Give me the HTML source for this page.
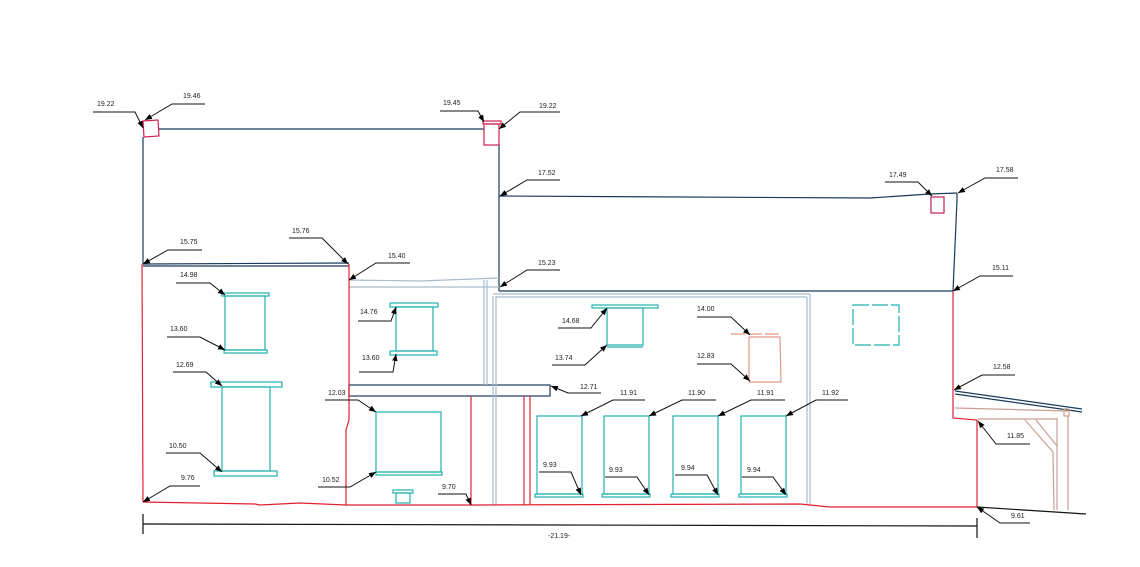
<!DOCTYPE html>
<html><head><meta charset="utf-8"><style>
html,body{margin:0;padding:0;background:#fff;}
svg{display:block;}
text{font-family:"Liberation Sans",sans-serif;font-size:7px;fill:#222;}
</style></head><body>
<svg width="1140" height="567" viewBox="0 0 1140 567" xmlns="http://www.w3.org/2000/svg">
<defs>
<marker id="a" viewBox="0 0 10 10" refX="10" refY="5" markerWidth="7" markerHeight="7" orient="auto-start-reverse" markerUnits="userSpaceOnUse"><path d="M0,1 L10,5 L0,9 z" fill="#000"/></marker>
</defs>
<g fill="none" stroke-width="1.2">
<!-- navy structure -->
<g stroke="#1a3a5c">
<line x1="159" y1="129" x2="484" y2="129"/>
<line x1="143" y1="137" x2="143" y2="264"/>
<line x1="499" y1="145" x2="499" y2="291"/>
<line x1="143" y1="264" x2="349" y2="263"/>
<line x1="143" y1="266" x2="349" y2="266"/>
<polyline points="499,196 870,198 930,194 957,193"/>
<polyline points="957,193 957,200 953,291"/>
<line x1="499" y1="291" x2="953" y2="291"/>
<rect x="349" y="385" width="201" height="11"/>
<line x1="955" y1="391" x2="1082" y2="409"/>
<line x1="955" y1="394" x2="1082" y2="412"/>
</g>
<!-- grey-blue -->
<g stroke="#a8bccc">
<polyline points="349,280 420,281 499,278"/>
<line x1="349" y1="287" x2="499" y2="287"/>
<line x1="484" y1="280" x2="484" y2="385"/>
<line x1="487" y1="280" x2="487" y2="385"/>
<line x1="493" y1="296" x2="493" y2="505"/>
<line x1="496" y1="296" x2="496" y2="505"/>
<line x1="493" y1="294" x2="810" y2="294"/>
<line x1="496" y1="297" x2="807" y2="297"/>
<line x1="807" y1="297" x2="807" y2="505"/>
<line x1="810" y1="294" x2="810" y2="505"/>
</g>
<!-- red -->
<g stroke="#e02030">
<polygon points="143,121 158,120 159,136 144,137" stroke="#d02050"/>
<rect x="483" y="121" width="18" height="3" stroke="#d02050"/>
<rect x="484" y="124" width="15" height="21" stroke="#d02050"/>
<rect x="931" y="197" width="13" height="16" stroke="#c02050"/>
<line x1="142" y1="264" x2="143" y2="502"/>
<polyline points="349,264 349,420 346,430 346,505"/>
<polyline points="143,502 255,504 260,505 300,503 346,505 471,505 800,504 830,507 977,507"/>
<polyline points="953,291 953,418 977,420 977,507"/>
<line x1="471" y1="396" x2="471" y2="505"/>
<line x1="524" y1="396" x2="524" y2="505"/>
<line x1="530" y1="396" x2="530" y2="505"/>
</g>
<!-- salmon/brown -->
<g stroke="#e09888">
<line x1="731" y1="334" x2="780" y2="334" stroke-dasharray="14,3"/>
<polyline points="749,337 780,337 781,382 749,382 749,337"/>
</g>
<g stroke="#c8a090">
<polyline points="955,408 1068,411"/>
<rect x="1064" y="409" width="5" height="7"/>
<line x1="1068" y1="416" x2="1068" y2="510"/>
<line x1="1057" y1="418" x2="1057" y2="510"/>
<line x1="978" y1="419" x2="1057" y2="419"/>
<polyline points="1025,420 1053,452 1054,510"/>
<line x1="1036" y1="420" x2="1057" y2="446"/>
</g>
<!-- teal windows -->
<g stroke="#20b0b0">
<rect x="222" y="293" width="47" height="3"/>
<rect x="225" y="296" width="40" height="54"/>
<rect x="224" y="350" width="43" height="3"/>
<rect x="211" y="382" width="71" height="5"/>
<rect x="222" y="387" width="48" height="84"/>
<rect x="214" y="471" width="63" height="5"/>
<rect x="390" y="303" width="48" height="4"/>
<rect x="396" y="307" width="37" height="44"/>
<rect x="390" y="351" width="47" height="4"/>
<rect x="376" y="412" width="65" height="60"/>
<rect x="376" y="472" width="66" height="3"/>
<rect x="393" y="490" width="20" height="3"/>
<rect x="396" y="493" width="14" height="10"/>
<rect x="592" y="305" width="66" height="3"/>
<rect x="607" y="308" width="36" height="37"/>
<line x1="607" y1="347" x2="643" y2="347"/>
<rect x="537" y="416" width="45" height="78"/>
<rect x="535" y="494" width="48" height="3"/>
<rect x="604" y="416" width="45" height="78"/>
<rect x="602" y="494" width="48" height="3"/>
<rect x="673" y="416" width="45" height="78"/>
<rect x="671" y="494" width="48" height="3"/>
<rect x="741" y="416" width="45" height="78"/>
<rect x="739" y="494" width="48" height="3"/>
<rect x="853" y="305" width="46" height="40" stroke-dasharray="16,3"/>
</g>
<!-- ground & dimension -->
<g stroke="#111">
<line x1="977" y1="507" x2="1086" y2="514"/>
<line x1="143" y1="524" x2="977" y2="526"/>
<line x1="143" y1="514" x2="143" y2="534"/>
<line x1="977" y1="518" x2="977" y2="538"/>
</g>
<!-- leaders -->
<g stroke="#111" stroke-width="1">
<polyline points="93,112 135,112 143,128" marker-end="url(#a)"/>
<polyline points="205,104 172,104 145,120" marker-end="url(#a)"/>
<polyline points="440,111 478,111 484,122" marker-end="url(#a)"/>
<polyline points="560,112 520,112 499,129" marker-end="url(#a)"/>
<polyline points="202,250 168,250 143,264" marker-end="url(#a)"/>
<polyline points="289,238 322,238 348,264" marker-end="url(#a)"/>
<polyline points="410,263 376,263 349,280" marker-end="url(#a)"/>
<polyline points="560,180 527,180 500,196" marker-end="url(#a)"/>
<polyline points="885,182 918,182 932,196" marker-end="url(#a)"/>
<polyline points="1018,178 985,178 958,193" marker-end="url(#a)"/>
<polyline points="560,270 527,270 500,287" marker-end="url(#a)"/>
<polyline points="1013,276 980,276 953,291" marker-end="url(#a)"/>
<polyline points="1015,375 982,375 954,390" marker-end="url(#a)"/>
<polyline points="1030,444 996,444 978,421" marker-end="url(#a)"/>
<polyline points="1030,523 1000,523 977,507" marker-end="url(#a)"/>
<polyline points="176,283 210,283 225,295" marker-end="url(#a)"/>
<polyline points="167,337 200,337 225,350" marker-end="url(#a)"/>
<polyline points="173,372 206,372 222,386" marker-end="url(#a)"/>
<polyline points="166,453 200,453 222,472" marker-end="url(#a)"/>
<polyline points="200,486 170,486 143,502" marker-end="url(#a)"/>
<polyline points="358,321 391,321 396,307" marker-end="url(#a)"/>
<polyline points="359,372 393,372 396,354" marker-end="url(#a)"/>
<polyline points="325,400 358,400 376,412" marker-end="url(#a)"/>
<polyline points="318,487 350,487 376,472" marker-end="url(#a)"/>
<polyline points="438,494 466,494 471,505" marker-end="url(#a)"/>
<polyline points="601,393 568,393 551,386" marker-end="url(#a)"/>
<polyline points="558,328 591,328 607,308" marker-end="url(#a)"/>
<polyline points="552,365 585,365 607,345" marker-end="url(#a)"/>
<polyline points="697,317 731,317 750,335" marker-end="url(#a)"/>
<polyline points="697,364 731,364 750,381" marker-end="url(#a)"/>
<polyline points="645,400 613,400 581,416" marker-end="url(#a)"/>
<polyline points="716,400 682,400 649,416" marker-end="url(#a)"/>
<polyline points="785,400 751,400 718,416" marker-end="url(#a)"/>
<polyline points="848,400 816,400 786,416" marker-end="url(#a)"/>
<polyline points="539,472 571,472 581,495" marker-end="url(#a)"/>
<polyline points="605,477 637,477 649,495" marker-end="url(#a)"/>
<polyline points="675,475 707,475 718,495" marker-end="url(#a)"/>
<polyline points="742,477 773,477 786,495" marker-end="url(#a)"/>
</g>
</g>
<g>
<text x="97" y="106">19.22</text>
<text x="183" y="98">19.46</text>
<text x="443" y="105">19.45</text>
<text x="539" y="108">19.22</text>
<text x="180" y="244">15.75</text>
<text x="292" y="233">15.76</text>
<text x="388" y="258">15.40</text>
<text x="538" y="175">17.52</text>
<text x="889" y="177">17.49</text>
<text x="996" y="172">17.58</text>
<text x="538" y="265">15.23</text>
<text x="992" y="270">15.11</text>
<text x="993" y="369">12.58</text>
<text x="1007" y="438">11.85</text>
<text x="1011" y="518">9.61</text>
<text x="180" y="277">14.98</text>
<text x="170" y="331">13.60</text>
<text x="176" y="367">12.69</text>
<text x="169" y="448">10.50</text>
<text x="181" y="480">9.76</text>
<text x="360" y="314">14.76</text>
<text x="362" y="360">13.60</text>
<text x="328" y="395">12.03</text>
<text x="322" y="482">10.52</text>
<text x="442" y="489">9.70</text>
<text x="580" y="389">12.71</text>
<text x="562" y="323">14.68</text>
<text x="555" y="360">13.74</text>
<text x="697" y="311">14.00</text>
<text x="697" y="358">12.83</text>
<text x="620" y="395">11.91</text>
<text x="688" y="395">11.90</text>
<text x="757" y="395">11.91</text>
<text x="822" y="395">11.92</text>
<text x="543" y="467">9.93</text>
<text x="609" y="472">9.93</text>
<text x="681" y="470">9.94</text>
<text x="747" y="472">9.94</text>
<text x="548" y="538">-21.19-</text>
</g>
</svg>
</body></html>
